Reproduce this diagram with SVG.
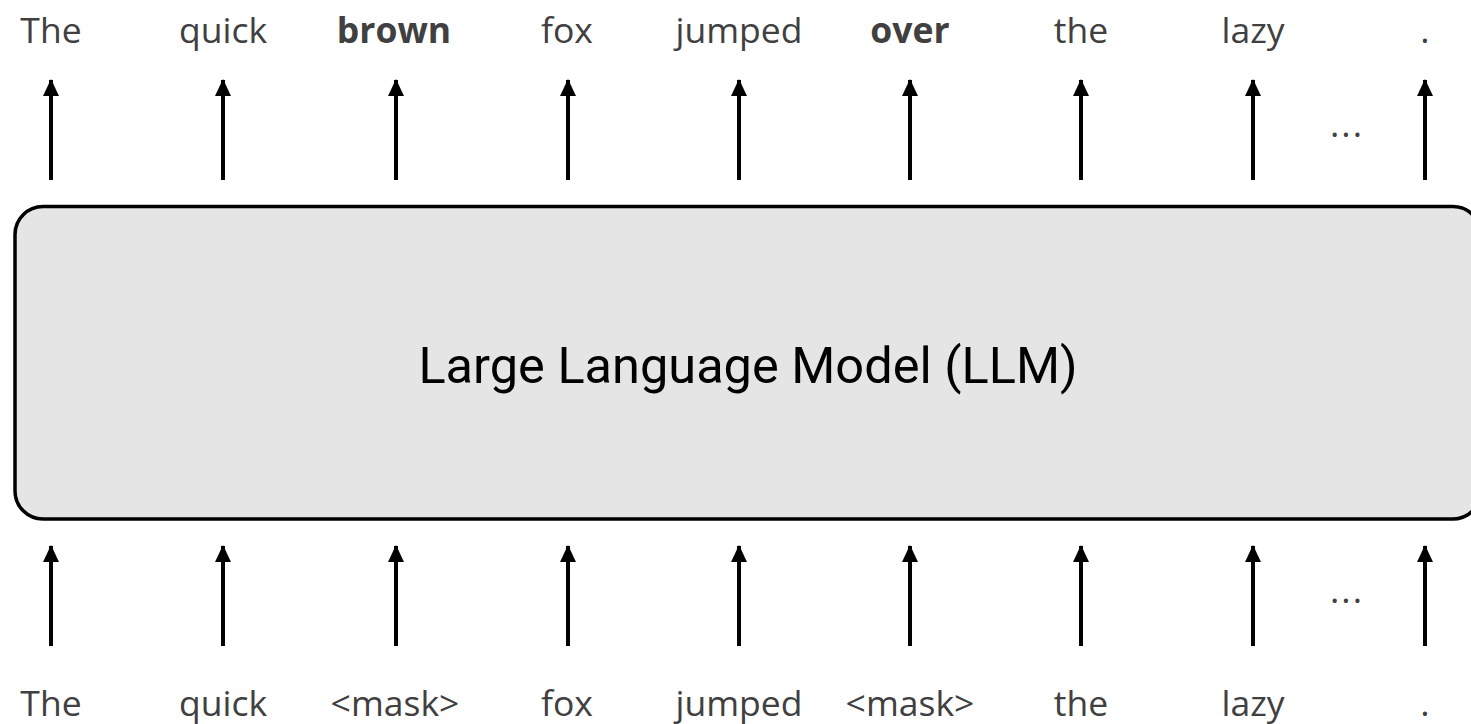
<svg xmlns="http://www.w3.org/2000/svg" width="1471" height="724" viewBox="0 0 1471 724">
<defs>
<marker id="ah" viewBox="0 0 17 16" refX="16" refY="8" markerWidth="17" markerHeight="16" markerUnits="userSpaceOnUse" orient="auto">
<path d="M0,0 L17,8 L0,16 Z" fill="#000"/>
</marker>
<style>
.w{font-family:"Open Sans","Liberation Sans",sans-serif;font-size:35.5px;fill:#404040;text-anchor:middle}
.b{font-weight:bold}
.d{letter-spacing:2px}
.a{stroke:#000;stroke-width:4;fill:none}
.lbl{font-family:Roboto,"Liberation Sans",sans-serif;font-size:50.5px;fill:#000;text-anchor:middle}
</style>
</defs>
<rect width="1471" height="724" fill="#fff"/>
<g id="llm">
<rect x="15" y="206.5" width="1466" height="312.5" rx="28" ry="28" fill="#e5e5e5" stroke="#000" stroke-width="3.5"/>
<text class="lbl" x="748" y="383">Large Language Model (LLM)</text>
</g>
<g id="outputs">
<text class="w" x="51" y="43">The</text>
<text class="w" x="223" y="43">quick</text>
<text class="w b" x="394" y="43">brown</text>
<text class="w" x="567" y="43">fox</text>
<text class="w" x="739" y="43">jumped</text>
<text class="w b" x="910" y="43">over</text>
<text class="w" x="1081" y="43">the</text>
<text class="w" x="1253" y="43">lazy</text>
<text class="w" x="1425" y="43">.</text>
<text class="w d" x="1347" y="137">...</text>
</g>
<g id="inputs">
<text class="w" x="51" y="716">The</text>
<text class="w" x="223" y="716">quick</text>
<text class="w" x="395" y="716">&lt;mask&gt;</text>
<text class="w" x="567" y="716">fox</text>
<text class="w" x="739" y="716">jumped</text>
<text class="w" x="910" y="716">&lt;mask&gt;</text>
<text class="w" x="1081" y="716">the</text>
<text class="w" x="1253" y="716">lazy</text>
<text class="w" x="1425" y="716">.</text>
<text class="w d" x="1347" y="603">...</text>
</g>
<g id="connectors">
<line class="a" x1="51" y1="180" x2="51" y2="80" marker-end="url(#ah)"/>
<line class="a" x1="223" y1="180" x2="223" y2="80" marker-end="url(#ah)"/>
<line class="a" x1="396" y1="180" x2="396" y2="80" marker-end="url(#ah)"/>
<line class="a" x1="568" y1="180" x2="568" y2="80" marker-end="url(#ah)"/>
<line class="a" x1="739" y1="180" x2="739" y2="80" marker-end="url(#ah)"/>
<line class="a" x1="910" y1="180" x2="910" y2="80" marker-end="url(#ah)"/>
<line class="a" x1="1081" y1="180" x2="1081" y2="80" marker-end="url(#ah)"/>
<line class="a" x1="1253" y1="180" x2="1253" y2="80" marker-end="url(#ah)"/>
<line class="a" x1="1425" y1="180" x2="1425" y2="80" marker-end="url(#ah)"/>
<line class="a" x1="51" y1="646" x2="51" y2="546" marker-end="url(#ah)"/>
<line class="a" x1="223" y1="646" x2="223" y2="546" marker-end="url(#ah)"/>
<line class="a" x1="396" y1="646" x2="396" y2="546" marker-end="url(#ah)"/>
<line class="a" x1="568" y1="646" x2="568" y2="546" marker-end="url(#ah)"/>
<line class="a" x1="739" y1="646" x2="739" y2="546" marker-end="url(#ah)"/>
<line class="a" x1="910" y1="646" x2="910" y2="546" marker-end="url(#ah)"/>
<line class="a" x1="1081" y1="646" x2="1081" y2="546" marker-end="url(#ah)"/>
<line class="a" x1="1253" y1="646" x2="1253" y2="546" marker-end="url(#ah)"/>
<line class="a" x1="1425" y1="646" x2="1425" y2="546" marker-end="url(#ah)"/>
</g>
</svg>
